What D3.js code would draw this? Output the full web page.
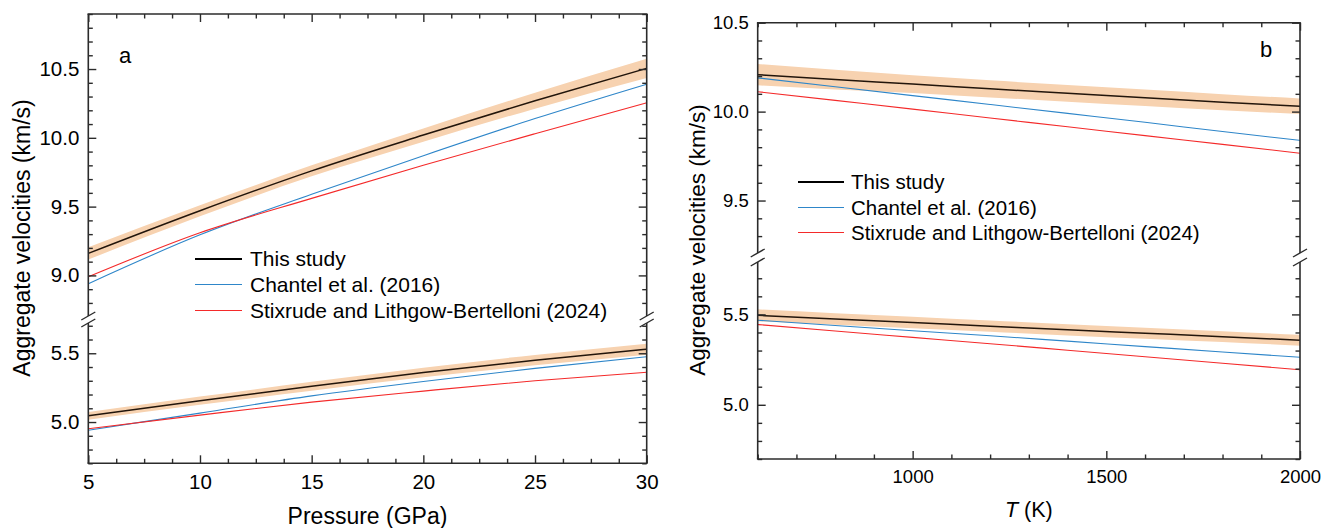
<!DOCTYPE html>
<html>
<head>
<meta charset="utf-8">
<script src="https://cdn.jsdelivr.net/npm/d3@7"></script>
<style>
  body { margin: 0; background: #fff; }
  svg { display: block; }
</style>
</head>
<body>
<svg id="fig" width="1322" height="528"></svg>
<script>
// ---------- Panel a: velocities versus pressure ----------
const pressure = [5, 10, 15, 20, 25, 30];
const vpThisP = [9.16, 9.47, 9.76, 10.02, 10.27, 10.505];
const vpThisPErr = [0.045, 0.04, 0.04, 0.048, 0.058, 0.07];
const vpChantelP = [8.94, 9.295, 9.59, 9.87, 10.14, 10.39];
const vpStixP = [8.99, 9.31, 9.56, 9.80, 10.03, 10.255];
const vsThisP = [5.045, 5.155, 5.26, 5.36, 5.45, 5.53];
const vsThisPErr = [0.028, 0.03, 0.032, 0.035, 0.038, 0.04];
const vsChantelP = [4.94, 5.065, 5.19, 5.295, 5.39, 5.475];
const vsStixP = [4.951, 5.05, 5.145, 5.225, 5.30, 5.362];

// ---------- Panel b: velocities versus temperature ----------
const temperature = [600, 800, 1000, 1200, 1400, 1600, 1800, 2000];
const vpThisT = [10.208, 10.18, 10.155, 10.128, 10.103, 10.078, 10.053, 10.03];
const vpThisTErr = [0.06, 0.055, 0.05, 0.048, 0.047, 0.046, 0.045, 0.044];
const vpChantelT = [10.19, 10.14, 10.09, 10.04, 9.99, 9.94, 9.888, 9.838];
const vpStixT = [10.112, 10.063, 10.014, 9.964, 9.915, 9.865, 9.816, 9.766];
const vsThisT = [5.495, 5.475, 5.455, 5.435, 5.415, 5.396, 5.377, 5.357];
const vsThisTErr = [0.033, 0.032, 0.032, 0.031, 0.031, 0.03, 0.03, 0.03];
const vsChantelT = [5.468, 5.439, 5.41, 5.382, 5.352, 5.322, 5.292, 5.263];
const vsStixT = [5.444, 5.408, 5.373, 5.338, 5.302, 5.266, 5.23, 5.194];

// ---------- Tick labels ----------
const pressureTicks = [5, 10, 15, 20, 25, 30];
const temperatureTicks = [1000, 1500, 2000];
const vpTicksA = [9.0, 9.5, 10.0, 10.5];
const vsTicksA = [5.0, 5.5];
const vpTicksB = [9.5, 10.0, 10.5];
const vsTicksB = [5.0, 5.5];

const seriesNames = ["This study", "Chantel et al. (2016)", "Stixrude and Lithgow-Bertelloni (2024)"];
const seriesColors = ["#111111", "#2e86c9", "#f42a2a"];
const bandColor = "#f7d2b0";
const axisColor = "#2b2b2b";
const FONT = "'Liberation Sans', Arial, Helvetica, sans-serif";

const svg = d3.select("#fig");

const panels = [
  {
    id: "a", label: "a", labelPos: [119, 63],
    left: 88.3, right: 646.7, top: 14, bottom: 463.3,
    tickFont: 20.5, legendFont: 21, titleFont: 23, xTitleFont: 23,
    x: pressure, xDomain: [5, 30], xTicks: pressureTicks,
    xMinor: d3.range(5, 30.001, 1.25),
    xTitle: [{ t: "Pressure (GPa)", italic: false }], xTitleY: 524,
    yTitleX: 30, yTitleY: 238,
    legend: { x0: 195, x1: 242, tx: 250, ys: [259, 284.5, 310.5] },
    segments: [
      { domain: [8.705, 10.9], range: [316, 14], ticks: vpTicksA,
        main: vpThisP, err: vpThisPErr, chantel: vpChantelP, stix: vpStixP },
      { domain: [4.7, 5.72], range: [463.3, 323], ticks: vsTicksA,
        main: vsThisP, err: vsThisPErr, chantel: vsChantelP, stix: vsStixP }
    ]
  },
  {
    id: "b", label: "b", labelPos: [1260, 57],
    left: 757.7, right: 1300, top: 22.7, bottom: 459,
    tickFont: 18.5, legendFont: 20.5, titleFont: 22.5, xTitleFont: 21.5,
    x: temperature, xDomain: [600, 2000], xTicks: temperatureTicks,
    xMinor: d3.range(600, 2000.001, 100),
    xTitle: [{ t: "T", italic: true }, { t: " (K)", italic: false }], xTitleY: 517,
    yTitleX: 704.5, yTitleY: 240,
    legend: { x0: 798, x1: 844, tx: 851, ys: [182, 207.5, 232.5] },
    segments: [
      { domain: [9.205, 10.5], range: [253, 22.7], ticks: vpTicksB,
        main: vpThisT, err: vpThisTErr, chantel: vpChantelT, stix: vpStixT },
      { domain: [4.7, 5.79], range: [459, 262], ticks: vsTicksB,
        main: vsThisT, err: vsThisTErr, chantel: vsChantelT, stix: vsStixT }
    ]
  }
];

function styleAxis(g, fontSize) {
  g.select(".domain").remove();
  g.selectAll(".tick line").attr("stroke", axisColor).attr("stroke-width", 1.4);
  g.selectAll(".tick text").attr("fill", "#000")
    .style("font-family", FONT).style("font-size", fontSize + "px");
}

function minorValues(domain, step, majors) {
  const lo = Math.ceil(domain[0] / step - 1e-9), hi = Math.floor(domain[1] / step + 1e-9);
  return d3.range(lo, hi + 1).map(k => +(k * step).toFixed(6))
    .filter(v => !majors.some(m => Math.abs(m - v) < 1e-6));
}

panels.forEach(p => {
  const g = svg.append("g").attr("class", "panel-" + p.id);
  const x = d3.scaleLinear().domain(p.xDomain).range([p.left, p.right]);
  const tf = p.tickFont;

  // data layers for each axis segment
  p.segments.forEach((s, i) => {
    const y = d3.scaleLinear().domain(s.domain).range(s.range);
    const clipId = "clip-" + p.id + i;
    g.append("clipPath").attr("id", clipId).append("rect")
      .attr("x", p.left).attr("y", s.range[1])
      .attr("width", p.right - p.left).attr("height", s.range[0] - s.range[1]);
    const layer = g.append("g").attr("clip-path", `url(#${clipId})`);

    const rows = p.x.map((xv, k) => ({ x: xv, m: s.main[k], e: s.err[k], c: s.chantel[k], s: s.stix[k] }));

    layer.append("path").datum(rows)
      .attr("fill", bandColor).attr("stroke", "none")
      .attr("d", d3.area().x(d => x(d.x)).y0(d => y(d.m - d.e)).y1(d => y(d.m + d.e)).curve(d3.curveMonotoneX));

    const line = key => d3.line().x(d => x(d.x)).y(d => y(d[key])).curve(d3.curveMonotoneX);
    layer.append("path").datum(rows).attr("fill", "none")
      .attr("stroke", seriesColors[1]).attr("stroke-width", 1.1).attr("d", line("c"));
    layer.append("path").datum(rows).attr("fill", "none")
      .attr("stroke", seriesColors[2]).attr("stroke-width", 1.1).attr("d", line("s"));
    layer.append("path").datum(rows).attr("fill", "none")
      .attr("stroke", "#22150b").attr("stroke-width", 1.5).attr("d", line("m"));

    // y ticks on both sides, pointing inward
    const minors = minorValues(s.domain, 0.1, s.ticks);
    g.append("g").call(d3.axisLeft(y).tickValues(s.ticks).tickSize(-8).tickPadding(9).tickFormat(d3.format(".1f")))
      .attr("transform", `translate(${p.left},0)`).call(a => styleAxis(a, tf));
    g.append("g").call(d3.axisLeft(y).tickValues(minors).tickSize(-4.5).tickFormat(""))
      .attr("transform", `translate(${p.left},0)`).call(a => styleAxis(a, tf));
    g.append("g").call(d3.axisRight(y).tickValues(s.ticks).tickSize(-8).tickFormat(""))
      .attr("transform", `translate(${p.right},0)`).call(a => styleAxis(a, tf));
    g.append("g").call(d3.axisRight(y).tickValues(minors).tickSize(-4.5).tickFormat(""))
      .attr("transform", `translate(${p.right},0)`).call(a => styleAxis(a, tf));

    // left and right frame pieces for this segment
    [p.left, p.right].forEach(xx => {
      g.append("line").attr("x1", xx).attr("x2", xx)
        .attr("y1", s.range[1]).attr("y2", s.range[0])
        .attr("stroke", axisColor).attr("stroke-width", 1.6);
    });
  });

  // break marks where the two segments meet
  const yBreaks = [p.segments[0].range[0], p.segments[1].range[1]];
  [p.left, p.right].forEach(xx => {
    yBreaks.forEach(yy => {
      g.append("line").attr("x1", xx - 7).attr("y1", yy + 4).attr("x2", xx + 7).attr("y2", yy - 4)
        .attr("stroke", axisColor).attr("stroke-width", 1.4);
    });
  });

  // x ticks bottom and top, pointing inward
  const xMinor = p.xMinor.filter(v => !p.xTicks.includes(v));
  g.append("g").attr("transform", `translate(0,${p.bottom})`)
    .call(d3.axisBottom(x).tickValues(p.xTicks).tickSize(-8).tickPadding(11).tickFormat(d3.format("d")))
    .call(a => styleAxis(a, tf));
  g.append("g").attr("transform", `translate(0,${p.bottom})`)
    .call(d3.axisBottom(x).tickValues(xMinor).tickSize(-4.5).tickFormat(""))
    .call(a => styleAxis(a, tf));
  g.append("g").attr("transform", `translate(0,${p.top})`)
    .call(d3.axisTop(x).tickValues(p.xTicks).tickSize(-8).tickFormat(""))
    .call(a => styleAxis(a, tf));
  g.append("g").attr("transform", `translate(0,${p.top})`)
    .call(d3.axisTop(x).tickValues(xMinor).tickSize(-4.5).tickFormat(""))
    .call(a => styleAxis(a, tf));

  // top and bottom frame lines
  [p.top, p.bottom].forEach(yy => {
    g.append("line").attr("x1", p.left - 0.8).attr("x2", p.right + 0.8)
      .attr("y1", yy).attr("y2", yy)
      .attr("stroke", axisColor).attr("stroke-width", 1.6);
  });

  // axis titles
  const xt = g.append("text")
    .attr("x", (p.left + p.right) / 2).attr("y", p.xTitleY)
    .attr("text-anchor", "middle")
    .style("font-family", FONT).style("font-size", p.xTitleFont + "px").attr("fill", "#000");
  p.xTitle.forEach(part => xt.append("tspan").text(part.t).style("font-style", part.italic ? "italic" : "normal"));

  g.append("text")
    .attr("transform", `translate(${p.yTitleX},${p.yTitleY}) rotate(-90)`)
    .attr("text-anchor", "middle")
    .style("font-family", FONT).style("font-size", p.titleFont + "px").attr("fill", "#000")
    .text("Aggregate velocities (km/s)");

  // panel letter
  g.append("text").attr("x", p.labelPos[0]).attr("y", p.labelPos[1])
    .style("font-family", FONT).style("font-size", "22px").attr("fill", "#000")
    .text(p.label);

  // legend
  const lg = g.append("g");
  seriesNames.forEach((name, i) => {
    const yy = p.legend.ys[i];
    lg.append("line").attr("x1", p.legend.x0).attr("x2", p.legend.x1).attr("y1", yy).attr("y2", yy)
      .attr("stroke", i === 0 ? "#000" : seriesColors[i]).attr("stroke-width", i === 0 ? 1.8 : 1.1);
    lg.append("text").attr("x", p.legend.tx).attr("y", yy + 7)
      .style("font-family", FONT).style("font-size", p.legendFont + "px").attr("fill", "#000")
      .text(name);
  });
});
</script>
</body>
</html>
